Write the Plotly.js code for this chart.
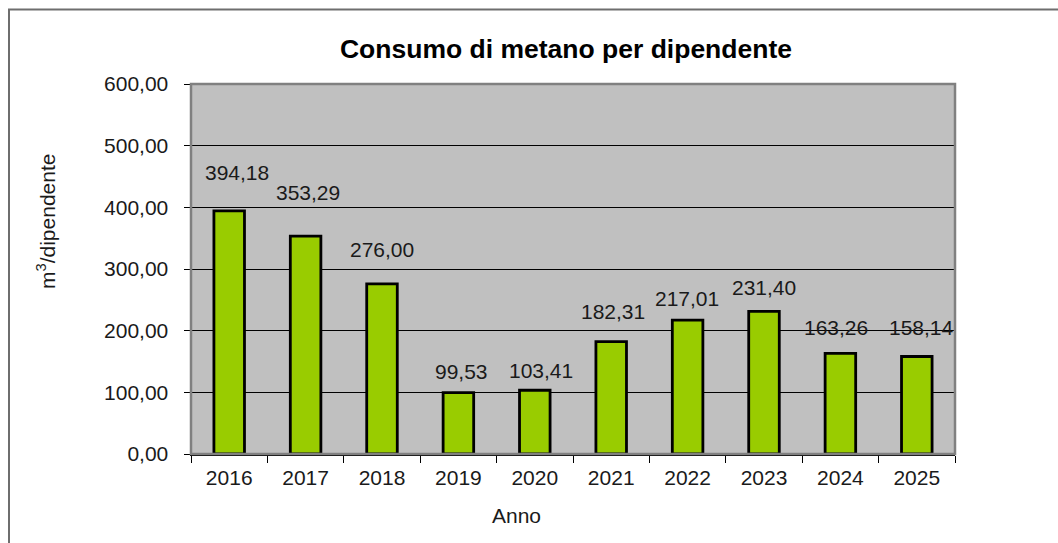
<!DOCTYPE html>
<html>
<head>
<meta charset="utf-8">
<script src="https://cdn.plot.ly/plotly-3.0.1.min.js"></script>
<style>
html,body{margin:0;padding:0;background:#fff;}
#chart{width:1058px;height:543px;}
</style>
</head>
<body>
<div id="chart"></div>
<script>
// ---- data ----
var years = ['2016','2017','2018','2019','2020','2021','2022','2023','2024','2025'];
var consumo = [394.18, 353.29, 276.00, 99.53, 103.41, 182.31, 217.01, 231.40, 163.26, 158.14];
var yTicks = [0, 100, 200, 300, 400, 500, 600];
var chartTitle = 'Consumo di metano per dipendente';
var yTitle = 'm<sup>3</sup>/dipendente';
var xTitle = 'Anno';

// ---- label placement (style, px offsets from bar top) ----
var labelDx = [8, 2, 0, 3, 6, 2, -1, 0, -4, 5];
var labelDy = [38, 44, 34, 21, 20, 30, 22, 24, 26, 29];

function fmt(v){ return v.toFixed(2).replace('.', ','); }

var FONT = 'Liberation Sans, Arial, sans-serif';
var TXT = '#1a1a1a';

var annotations = years.map(function(y, i){
  return {
    x: i, y: consumo[i], xref: 'x', yref: 'y',
    text: fmt(consumo[i]), showarrow: false,
    xanchor: 'center', yanchor: 'middle',
    xshift: labelDx[i], yshift: labelDy[i],
    font: {family: FONT, size: 21, color: TXT}
  };
});
annotations.push({
  xref: 'paper', yref: 'paper', x: (46 - 191) / 764, y: (454 - 222) / 370,
  text: yTitle, textangle: -90, showarrow: false,
  xanchor: 'center', yanchor: 'middle',
  font: {family: FONT, size: 21, color: TXT}
});
annotations.push({
  xref: 'paper', yref: 'paper', x: (516 - 191) / 764, y: (454 - 515) / 370,
  text: xTitle, showarrow: false,
  xanchor: 'center', yanchor: 'middle',
  font: {family: FONT, size: 21, color: TXT}
});

var trace = {
  type: 'bar',
  x: years,
  y: consumo,
  marker: {color: '#99CC00', line: {color: '#000000', width: 2.8}},
  hoverinfo: 'x+y'
};

var layout = {
  width: 1058, height: 543,
  margin: {l: 191, r: 103, t: 84, b: 89, pad: 0},
  paper_bgcolor: '#ffffff',
  plot_bgcolor: '#C0C0C0',
  separators: ',.',
  bargap: 0.6,
  showlegend: false,
  title: {
    text: '<b>' + chartTitle + '</b>',
    font: {family: FONT, size: 26.5, color: '#000'},
    xref: 'container', yref: 'container',
    x: 566 / 1058, xanchor: 'center',
    y: 1 - 49 / 543, yanchor: 'middle'
  },
  xaxis: {
    type: 'category',
    categoryorder: 'array', categoryarray: years,
    range: [-0.5, years.length - 0.5], autorange: false,
    tickson: 'boundaries',
    ticks: 'outside', ticklen: 7, tickwidth: 1, tickcolor: '#000',
    showline: true, linecolor: '#000', linewidth: 1.5,
    showgrid: false, zeroline: false,
    tickangle: 0,
    tickfont: {family: FONT, size: 21, color: TXT},
    ticklabelstandoff: 4
  },
  yaxis: {
    range: [0, 600], autorange: false,
    tickvals: yTicks,
    tickformat: '.2f',
    ticks: 'outside', ticklen: 6, tickwidth: 1, tickcolor: '#000',
    showline: true, linecolor: '#000', linewidth: 1.5,
    showgrid: true, gridcolor: '#000', gridwidth: 1,
    zeroline: false,
    tickfont: {family: FONT, size: 21, color: TXT},
    ticklabelstandoff: 11
  },
  shapes: [
    {type: 'rect', xref: 'paper', yref: 'paper', x0: 0, x1: 1, y0: 0, y1: 1,
     line: {color: '#808080', width: 2.5}, fillcolor: 'rgba(0,0,0,0)', layer: 'above'},
    {type: 'rect', xref: 'paper', yref: 'paper',
     x0: (9 - 191) / 764, x1: (1080 - 191) / 764,
     y0: (454 - 570) / 370, y1: (454 - 9.5) / 370,
     line: {color: '#6e6e6e', width: 2}, fillcolor: 'rgba(0,0,0,0)', layer: 'below'}
  ],
  annotations: annotations
};

Plotly.newPlot('chart', [trace], layout, {displayModeBar: false, staticPlot: true});
</script>
</body>
</html>
